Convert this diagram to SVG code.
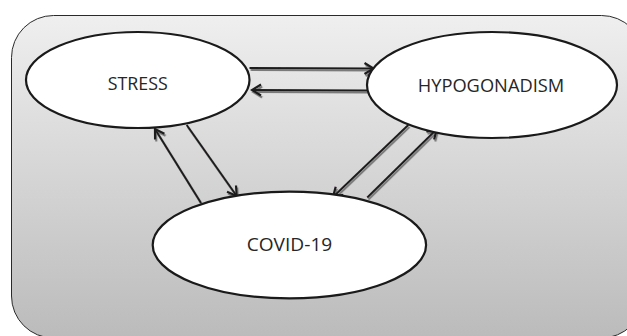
<svg xmlns="http://www.w3.org/2000/svg" width="627" height="336" viewBox="0 0 627 336">
  <defs>
    <linearGradient id="bg" x1="0" y1="0" x2="0" y2="1">
      <stop offset="0" stop-color="#efefef"/>
      <stop offset="1" stop-color="#bbbbbb"/>
    </linearGradient>
    <marker id="arrow" markerUnits="userSpaceOnUse" markerWidth="14" markerHeight="14" viewBox="0 0 14 14" refX="12" refY="7" orient="auto">
      <path d="M3,1.5 L12,7 L3,12.5" fill="none" stroke="#1f1c1d" stroke-width="2.2" stroke-linejoin="miter"/>
    </marker>
    <filter id="shadow" x="-20%" y="-20%" width="140%" height="140%">
      <feDropShadow dx="1.2" dy="2" stdDeviation="0.6" flood-color="#6e6e6e" flood-opacity="0.9"/>
    </filter>
    <style>
      .node ellipse { fill: #ffffff; stroke: #1a1a1a; stroke-width: 2.2; }
      .node text { font-family: "Open Sans", "Liberation Sans", sans-serif; font-size: 19px; fill: #262626; text-anchor: middle; }
      .conn line { stroke: #1f1c1d; stroke-width: 2; marker-end: url(#arrow); }
    </style>
  </defs>

  <rect id="background" x="11.5" y="15.5" width="632" height="322.5" rx="42" ry="42" fill="url(#bg)" stroke="#2a2a2a" stroke-width="1"/>

  <g id="connectors" class="conn" filter="url(#shadow)">
    <line x1="249.5" y1="68" x2="373.5" y2="68.5"/>
    <line x1="367" y1="90.5" x2="252" y2="90"/>
    <line x1="186.7" y1="125" x2="236.7" y2="196"/>
    <line x1="201" y1="203" x2="155" y2="129"/>
    <line x1="408.3" y1="125" x2="333" y2="197"/>
    <line x1="367.3" y1="197.5" x2="436.7" y2="129.3"/>
  </g>

  <g id="stress" class="node">
    <ellipse cx="137.75" cy="80" rx="111.75" ry="48"/>
    <text x="137.7" y="90" textLength="60" lengthAdjust="spacingAndGlyphs">STRESS</text>
  </g>

  <g id="hypogonadism" class="node">
    <ellipse cx="492" cy="85" rx="125" ry="53"/>
    <text x="491" y="92.3" textLength="146.6" lengthAdjust="spacingAndGlyphs">HYPOGONADISM</text>
  </g>

  <g id="covid19" class="node">
    <ellipse cx="289.4" cy="245" rx="136.7" ry="53.3"/>
    <text x="289.5" y="251" textLength="85.6" lengthAdjust="spacingAndGlyphs">COVID-19</text>
  </g>
</svg>
